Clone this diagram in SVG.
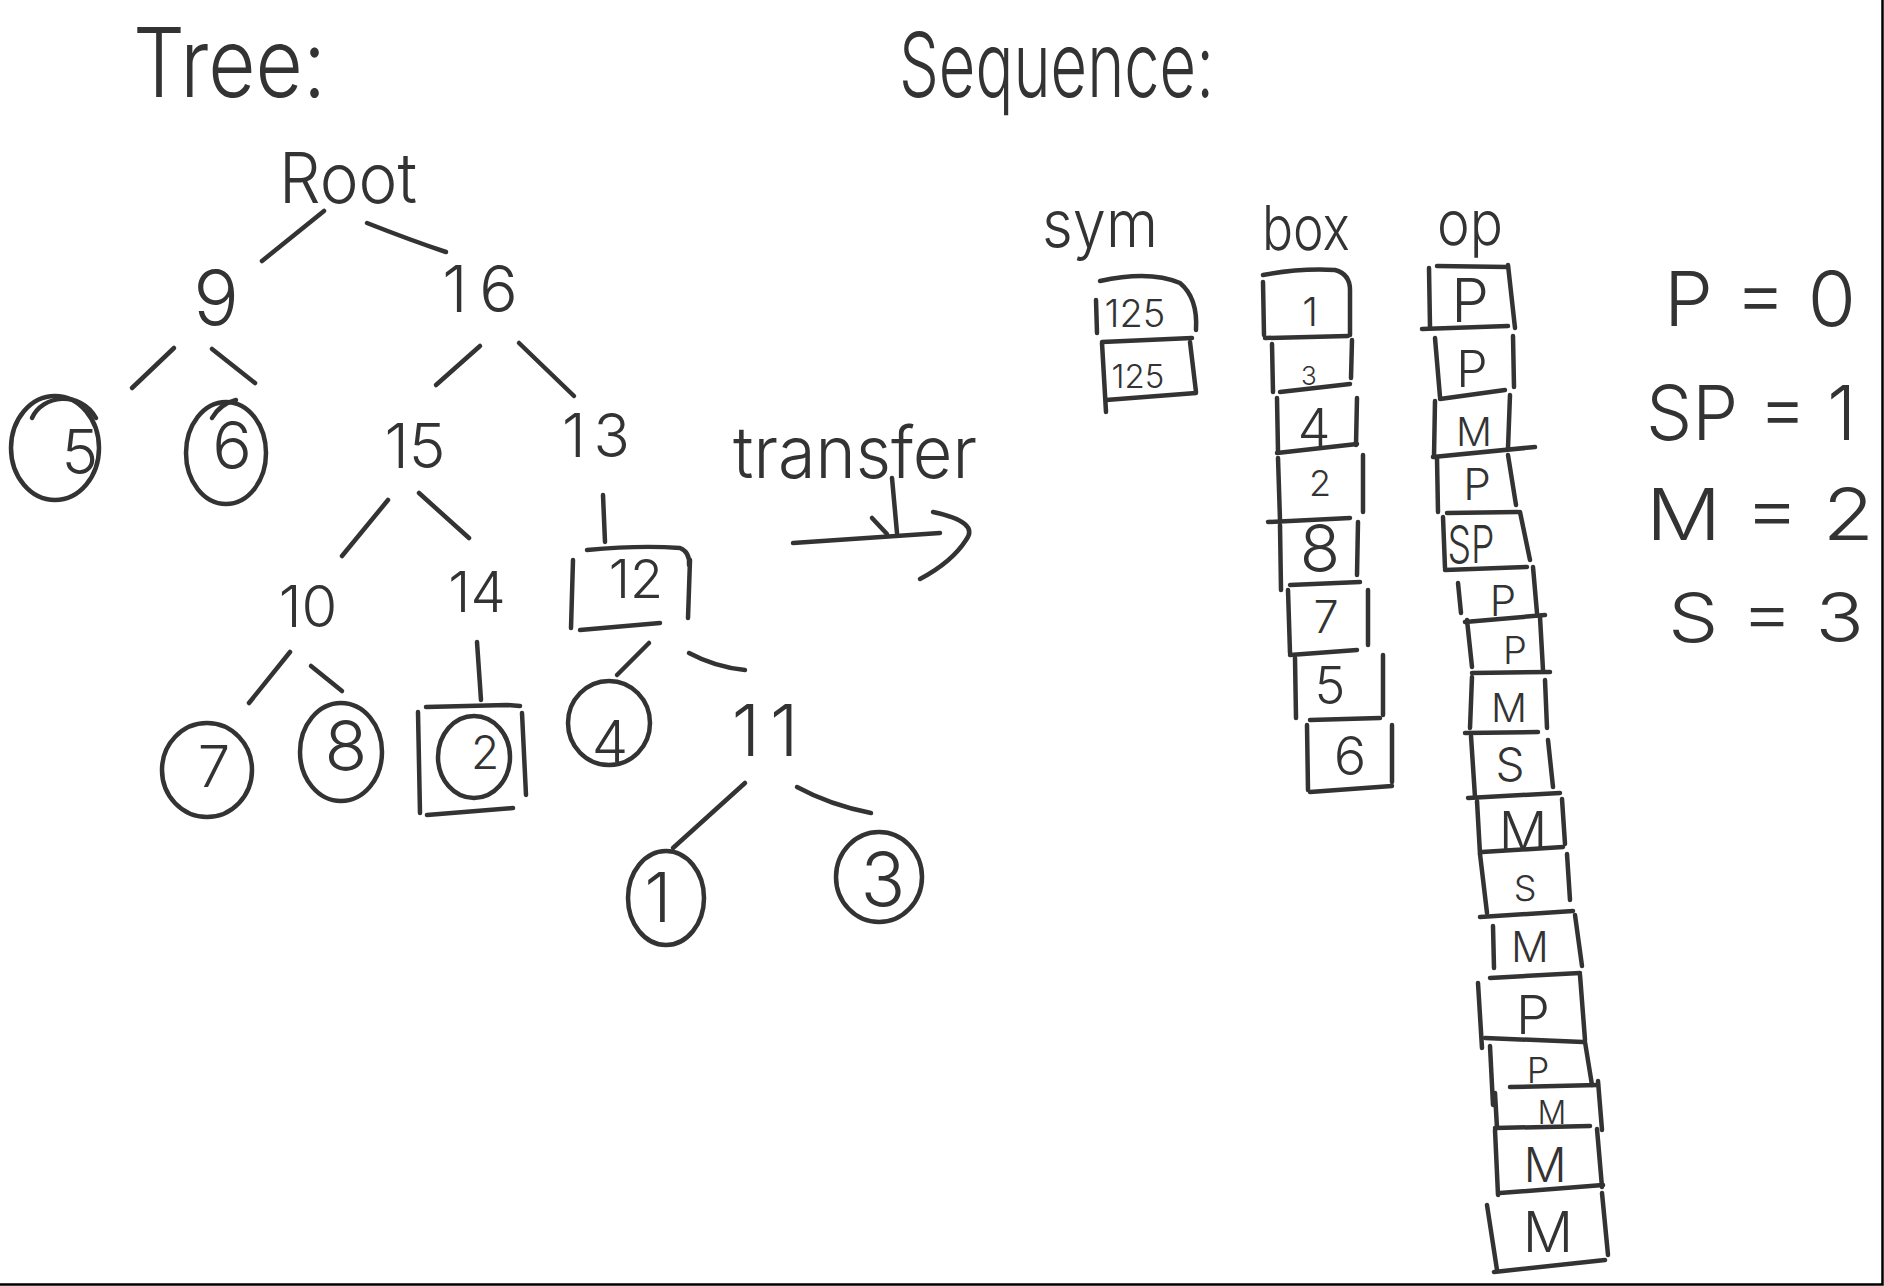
<svg xmlns="http://www.w3.org/2000/svg" width="1884" height="1286" viewBox="0 0 1884 1286">
<style>
  .ink { fill: none; stroke: #333; stroke-width: 4.5; stroke-linecap: round; stroke-linejoin: round; }
  .t { font-family: Inter, Lato, "Liberation Sans", sans-serif; font-weight: 300; fill: #333; text-anchor: middle; }
  .ts { font-family: Inter, Lato, "Liberation Sans", sans-serif; font-weight: 300; fill: #333; text-anchor: start; }
</style>
<rect x="0" y="0" width="1884" height="1286" fill="#ffffff"/>
<path d="M0 1284.5 L1882.5 1284.5 L1882.5 0" fill="none" stroke="#000" stroke-width="2.5"/>

<!-- titles -->
<text class="ts" x="133" y="97" font-size="96" textLength="193" lengthAdjust="spacingAndGlyphs">Tree:</text>
<text class="ts" x="899" y="97" font-size="90" textLength="315" lengthAdjust="spacingAndGlyphs">Sequence:</text>

<!-- connectors -->
<g id="connectors" class="ink">
  <path d="M324 211 L262 261"/>
  <path d="M367 223 Q410 240 446 252"/>
  <path d="M174 348 L132 388"/>
  <path d="M212 349 L255 383"/>
  <path d="M480 346 L436 385"/>
  <path d="M519 343 L574 396"/>
  <path d="M388 500 L342 556"/>
  <path d="M419 493 L469 538"/>
  <path d="M603 495 L605 542"/>
  <path d="M290 652 L249 703"/>
  <path d="M311 666 L342 691"/>
  <path d="M477 642 L481 700"/>
  <path d="M649 643 L617 675"/>
  <path d="M689 653 Q715 667 745 670"/>
  <path d="M745 783 L673 848"/>
  <path d="M797 787 Q830 805 871 813"/>
  <g id="transfer-arrow">
    <path d="M793 543 L940 533"/>
    <path d="M933 512 Q980 522 966 540 Q952 562 920 579"/>
    <path d="M892 478 L897 533"/>
    <path d="M872 518 L887 534"/>
  </g>
</g>
<text id="transfer-label" class="ts" x="733" y="478" font-size="72" textLength="244" lengthAdjust="spacingAndGlyphs">transfer</text>

<!-- tree nodes -->
<g id="root"><text class="t" x="348" y="203" font-size="70" textLength="138" lengthAdjust="spacingAndGlyphs">Root</text></g>
<g id="n9"><text class="t" x="216" y="325" font-size="76">9</text></g>
<g id="n16"><text class="t" x="486" y="312" font-size="64" letter-spacing="12">16</text></g>
<g id="n5">
  <ellipse class="ink" cx="55" cy="448" rx="44" ry="52"/>
  <path class="ink" d="M32 418 C42 395 80 390 96 418"/>
  <text class="t" x="80" y="474" font-size="62">5</text>
</g>
<g id="n6">
  <ellipse class="ink" cx="226" cy="453" rx="40" ry="51"/>
  <path class="ink" d="M212 418 Q220 404 236 400"/>
  <text class="t" x="232" y="469" font-size="66">6</text>
</g>
<g id="n15"><text class="t" x="415" y="468" font-size="62">15</text></g>
<g id="n13"><text class="t" x="600" y="457" font-size="60" letter-spacing="8">13</text></g>
<g id="n10"><text class="t" x="308" y="627" font-size="58">10</text></g>
<g id="n14"><text class="t" x="477" y="612" font-size="56">14</text></g>
<g id="n12">
  <path class="ink" d="M573 560 L571 628"/>
  <path class="ink" d="M587 550 Q640 545 680 548 Q690 552 689 565"/>
  <path class="ink" d="M690 560 L688 618"/>
  <path class="ink" d="M580 630 L660 623"/>
  <text class="t" x="636" y="598" font-size="54">12</text>
</g>
<g id="n7">
  <ellipse class="ink" cx="207" cy="770" rx="45" ry="47"/>
  <text class="t" x="214" y="787" font-size="58">7</text>
</g>
<g id="n8">
  <ellipse class="ink" cx="341" cy="752" rx="41" ry="49"/>
  <text class="t" x="346" y="771" font-size="70">8</text>
</g>
<g id="n2">
  <path class="ink" d="M418 712 L420 813"/>
  <path class="ink" d="M426 707 L507 705 L520 706"/>
  <path class="ink" d="M522 713 L526 795"/>
  <path class="ink" d="M427 815 L513 808"/>
  <ellipse class="ink" cx="474" cy="757" rx="36" ry="41"/>
  <text class="t" x="485" y="769" font-size="46">2</text>
</g>
<g id="n4">
  <ellipse class="ink" cx="609" cy="723" rx="41" ry="42"/>
  <text class="t" x="610" y="762" font-size="58">4</text>
</g>
<g id="n11"><text class="t" x="770" y="756" font-size="72" letter-spacing="10">11</text></g>
<g id="n1">
  <ellipse class="ink" cx="666" cy="898" rx="38" ry="47"/>
  <text class="t" x="658" y="922" font-size="68">1</text>
</g>
<g id="n3">
  <ellipse class="ink" cx="879" cy="877" rx="43" ry="45"/>
  <text class="t" x="883" y="906" font-size="74">3</text>
</g>

<!-- sequence: sym -->
<g id="sym">
  <text class="t" x="1100" y="247" font-size="66" textLength="116" lengthAdjust="spacingAndGlyphs">sym</text>
  <path class="ink" d="M1096 300 L1097 333"/>
  <path class="ink" d="M1100 281 Q1150 270 1180 283 Q1198 298 1196 330"/>
  <path class="ink" d="M1102 342 L1192 338"/>
  <text class="t" x="1135" y="327" font-size="38">125</text>
  <path class="ink" d="M1102 343 L1106 412"/>
  <path class="ink" d="M1190 342 L1196 392"/>
  <path class="ink" d="M1106 400 L1196 393"/>
  <text class="t" x="1138" y="388" font-size="33">125</text>
</g>

<!-- sequence: box -->
<g id="box">
  <text class="t" x="1306" y="250" font-size="62" textLength="88" lengthAdjust="spacingAndGlyphs">box</text>
  <path class="ink" d="M1263 275 Q1300 268 1335 270 Q1350 274 1350 290 L1350 335"/>
  <path class="ink" d="M1263 282 L1264 335"/>
  <path class="ink" d="M1265 338 L1348 336"/>
  <text class="t" x="1310" y="326" font-size="40">1</text>
  <path class="ink" d="M1272 344 L1273 392"/>
  <path class="ink" d="M1352 340 L1351 378"/>
  <path class="ink" d="M1280 392 L1350 384"/>
  <text class="t" x="1309" y="385" font-size="26">3</text>
  <path class="ink" d="M1277 398 L1278 452"/>
  <path class="ink" d="M1357 398 L1356 445"/>
  <path class="ink" d="M1277 453 L1357 444"/>
  <text class="t" x="1314" y="446" font-size="52">4</text>
  <path class="ink" d="M1278 458 L1280 520"/>
  <path class="ink" d="M1363 455 L1363 512"/>
  <path class="ink" d="M1268 522 L1350 518"/>
  <text class="t" x="1320" y="496" font-size="36">2</text>
  <path class="ink" d="M1280 525 L1281 590"/>
  <path class="ink" d="M1358 522 L1357 575"/>
  <path class="ink" d="M1290 585 L1360 582"/>
  <text class="t" x="1320" y="572" font-size="66">8</text>
  <path class="ink" d="M1288 590 L1290 653"/>
  <path class="ink" d="M1368 590 L1368 645"/>
  <path class="ink" d="M1290 655 L1357 650"/>
  <text class="t" x="1326" y="633" font-size="45">7</text>
  <path class="ink" d="M1295 658 L1296 718"/>
  <path class="ink" d="M1383 655 L1383 715"/>
  <path class="ink" d="M1310 720 L1380 718"/>
  <text class="t" x="1330" y="704" font-size="52">5</text>
  <path class="ink" d="M1307 725 L1308 790"/>
  <path class="ink" d="M1392 725 L1392 782"/>
  <path class="ink" d="M1310 792 L1392 786"/>
  <text class="t" x="1350" y="775" font-size="54">6</text>
</g>

<!-- sequence: op -->
<g id="op">
  <text class="t" x="1470" y="245" font-size="62" textLength="66" lengthAdjust="spacingAndGlyphs">op</text>
  <path class="ink" d="M1437 266 L1508 267"/>
  <path class="ink" d="M1429 268 L1430 327"/>
  <path class="ink" d="M1508 265 L1515 328"/>
  <path class="ink" d="M1422 329 L1508 326"/>
  <text class="t" x="1470" y="322" font-size="60">P</text>
  <path class="ink" d="M1435 338 L1440 397"/>
  <path class="ink" d="M1513 336 L1514 387"/>
  <path class="ink" d="M1440 399 L1505 390"/>
  <text class="t" x="1472" y="387" font-size="50">P</text>
  <path class="ink" d="M1435 401 L1434 457"/>
  <path class="ink" d="M1510 395 L1508 448"/>
  <path class="ink" d="M1433 457 L1535 447"/>
  <text class="t" x="1474" y="446" font-size="40">M</text>
  <path class="ink" d="M1437 458 L1438 512"/>
  <path class="ink" d="M1508 455 L1516 505"/>
  <path class="ink" d="M1447 513 L1518 512"/>
  <text class="t" x="1477" y="500" font-size="44">P</text>
  <path class="ink" d="M1443 517 L1445 568"/>
  <path class="ink" d="M1520 512 L1530 560"/>
  <path class="ink" d="M1445 570 L1527 567"/>
  <text class="t" x="1471" y="563" font-size="52" textLength="47" lengthAdjust="spacingAndGlyphs">SP</text>
  <path class="ink" d="M1458 583 L1461 613"/>
  <path class="ink" d="M1533 567 L1537 613"/>
  <path class="ink" d="M1465 622 L1545 615"/>
  <text class="t" x="1503" y="616" font-size="42">P</text>
  <path class="ink" d="M1467 620 L1472 667"/>
  <path class="ink" d="M1540 617 L1543 670"/>
  <path class="ink" d="M1472 673 L1550 672"/>
  <text class="t" x="1515" y="664" font-size="38">P</text>
  <path class="ink" d="M1472 677 L1470 728"/>
  <path class="ink" d="M1545 680 L1547 728"/>
  <path class="ink" d="M1465 733 L1538 732"/>
  <text class="t" x="1509" y="722" font-size="40">M</text>
  <path class="ink" d="M1471 736 L1475 797"/>
  <path class="ink" d="M1548 740 L1553 787"/>
  <path class="ink" d="M1468 798 L1560 793"/>
  <text class="t" x="1510" y="781" font-size="46">S</text>
  <path class="ink" d="M1477 801 L1480 854"/>
  <path class="ink" d="M1562 799 L1565 844"/>
  <path class="ink" d="M1482 852 L1563 847"/>
  <text class="t" x="1523" y="850" font-size="54">M</text>
  <path class="ink" d="M1480 854 L1487 913"/>
  <path class="ink" d="M1567 854 L1570 900"/>
  <path class="ink" d="M1480 917 L1573 911"/>
  <text class="t" x="1525" y="901" font-size="36">S</text>
  <path class="ink" d="M1493 926 L1494 968"/>
  <path class="ink" d="M1575 915 L1582 966"/>
  <path class="ink" d="M1490 978 L1580 973"/>
  <text class="t" x="1530" y="962" font-size="42">M</text>
  <path class="ink" d="M1478 983 L1482 1048"/>
  <path class="ink" d="M1580 975 L1585 1040"/>
  <path class="ink" d="M1485 1038 L1583 1042"/>
  <text class="t" x="1533" y="1034" font-size="54">P</text>
  <path class="ink" d="M1490 1046 L1493 1105"/>
  <path class="ink" d="M1585 1042 L1592 1085"/>
  <path class="ink" d="M1510 1087 L1598 1085"/>
  <text class="t" x="1538" y="1083" font-size="36">P</text>
  <path class="ink" d="M1495 1093 L1497 1128"/>
  <path class="ink" d="M1598 1081 L1602 1130"/>
  <path class="ink" d="M1495 1128 L1590 1126"/>
  <text class="t" x="1552" y="1124" font-size="32">M</text>
  <path class="ink" d="M1495 1130 L1498 1195"/>
  <path class="ink" d="M1597 1129 L1602 1187"/>
  <path class="ink" d="M1500 1193 L1603 1185"/>
  <text class="t" x="1545" y="1182" font-size="48">M</text>
  <path class="ink" d="M1487 1205 L1497 1270"/>
  <path class="ink" d="M1602 1193 L1608 1255"/>
  <path class="ink" d="M1494 1272 L1605 1260"/>
  <text class="t" x="1548" y="1252" font-size="56">M</text>
</g>

<!-- legend -->
<g id="legend">
  <text class="ts" x="1664" y="326" font-size="76" textLength="192" lengthAdjust="spacingAndGlyphs">P = 0</text>
  <text class="ts" x="1646" y="440" font-size="76" textLength="210" lengthAdjust="spacingAndGlyphs">SP = 1</text>
  <text class="ts" x="1646" y="540" font-size="72" textLength="228" lengthAdjust="spacingAndGlyphs">M = 2</text>
  <text class="ts" x="1668" y="642" font-size="68" textLength="196" lengthAdjust="spacingAndGlyphs">S = 3</text>
</g>
</svg>
